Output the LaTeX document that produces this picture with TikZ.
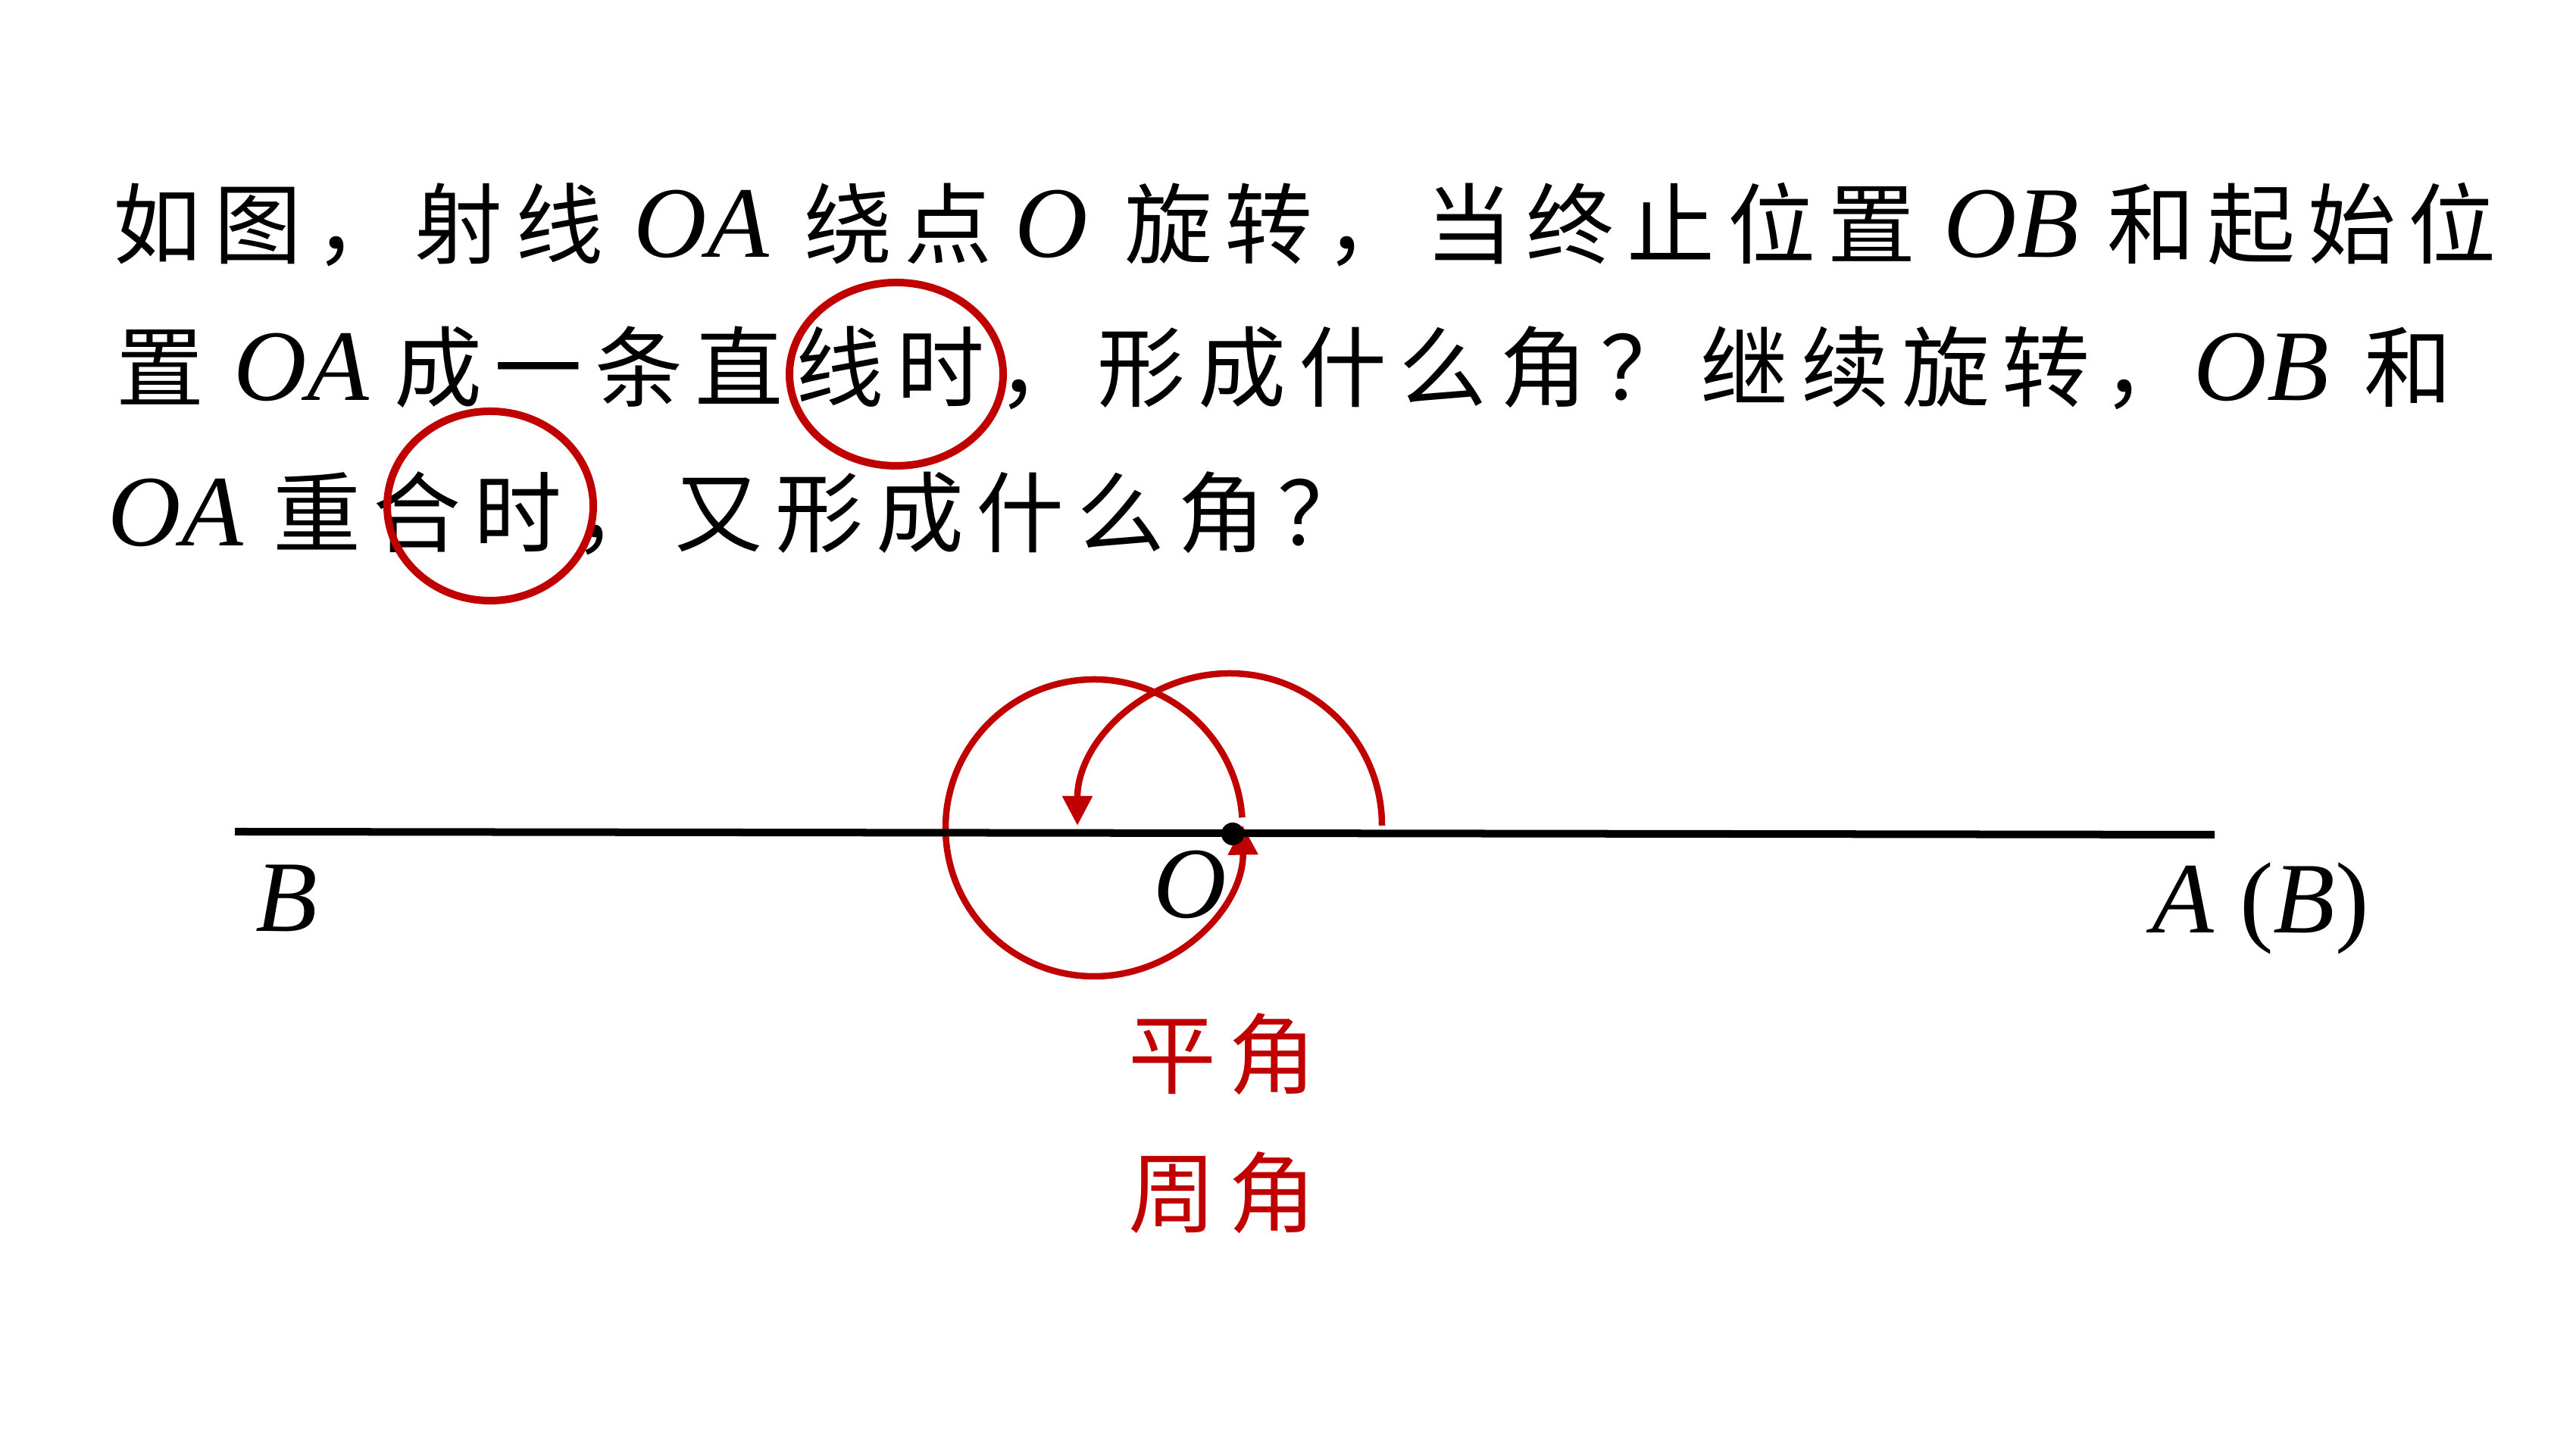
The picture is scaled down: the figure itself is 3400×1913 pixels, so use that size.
\documentclass[tikz,border=0pt]{standalone}
\usepackage{fontspec}
\setmainfont{Liberation Serif}
\newfontfamily\cjk{Noto Sans CJK SC}
\usetikzlibrary{arrows.meta}
\definecolor{hl}{HTML}{C00000}
\newlength\pitchlen
\setlength\pitchlen{1.326cm}
\def\spread#1{\spreadi#1\relax}
\def\spreadi#1{\ifx\relax#1\else\makebox[\pitchlen]{#1}\expandafter\spreadi\fi}
\tikzset{
  cjktext/.style={inner sep=0pt, anchor=base west, font=\cjk\fontsize{33}{36}\selectfont},
  lat/.style={inner sep=0pt, anchor=base, font=\fontsize{38}{40}\selectfont\itshape},
  ring/.style={draw=hl, line width=0.1cm},
  redarc/.style={draw=hl, line width=0.085cm},
  redtext/.style={cjktext, text=hl},
  tip/.style={-{Triangle[length=0.39cm,width=0.38cm]}},
  ray/.style={line width=0.1cm},
}
\begin{document}
\begin{tikzpicture}[x=0.01cm,y=0.01cm]
\useasboundingbox (0,0) rectangle (3400,1913);
% line 1
\node[cjktext] (l1a) at (140.7,1573) {\spread{如图，射线}};
\node[lat] (l1b) at (926,1573) {OA};
\node[cjktext] (l1c) at (1052,1573) {\spread{绕点}};
\node[lat] (l1d) at (1388,1573) {O};
\node[cjktext] (l1e) at (1475,1573) {\spread{旋转，当终止位置}};
\node[lat] (l1f) at (2655,1573) {OB};
\node[cjktext] (l1g) at (2772,1573) {\spread{和起始位}};
% line 2
\node[cjktext] (l2a) at (144,1384) {\spread{置}};
\node[lat] (l2b) at (398,1384) {OA};
\node[cjktext] (l2c) at (511,1384) {\spread{成一条直线时，形成什么角？继续旋转，}};
\node[lat] (l2d) at (2985,1384) {OB};
\node[cjktext] (l2e) at (3111,1384) {\spread{和}};
% line 3
\node[lat] (l3a) at (232,1192) {OA};
\node[cjktext] (l3b) at (351,1192) {\spread{重合时，又形成什么角？}};
% highlight rings
\draw[ring] (1183,1419) ellipse [x radius=141, y radius=121];
\draw[ring] (647,1245) ellipse [x radius=136, y radius=125];
% diagram
\draw[redarc, tip] (1824,823) arc[start angle=0, end angle=180, radius=201];
\draw[redarc, tip] (1444,820) ++(4:196) arc[start angle=4, end angle=361, radius=196];
\coordinate (Bend) at (310,815);
\coordinate (Aend) at (2923,811);
\draw[ray] (Bend) -- (Aend);
\node[circle, fill=black, inner sep=0pt, minimum size=0.3cm] (Odot) at (1627,812) {};
\node[lat] (lB) at (378,683) {B};
\node[lat] (lO) at (1571,701) {O};
\node[lat, anchor=base west] (lAB) at (2840,681) {A \textup{(}B\textup{)}};
\node[redtext] (t1) at (1480,477) {\spread{平角}};
\node[redtext] (t2) at (1480,294) {\spread{周角}};
\end{tikzpicture}
\end{document}
